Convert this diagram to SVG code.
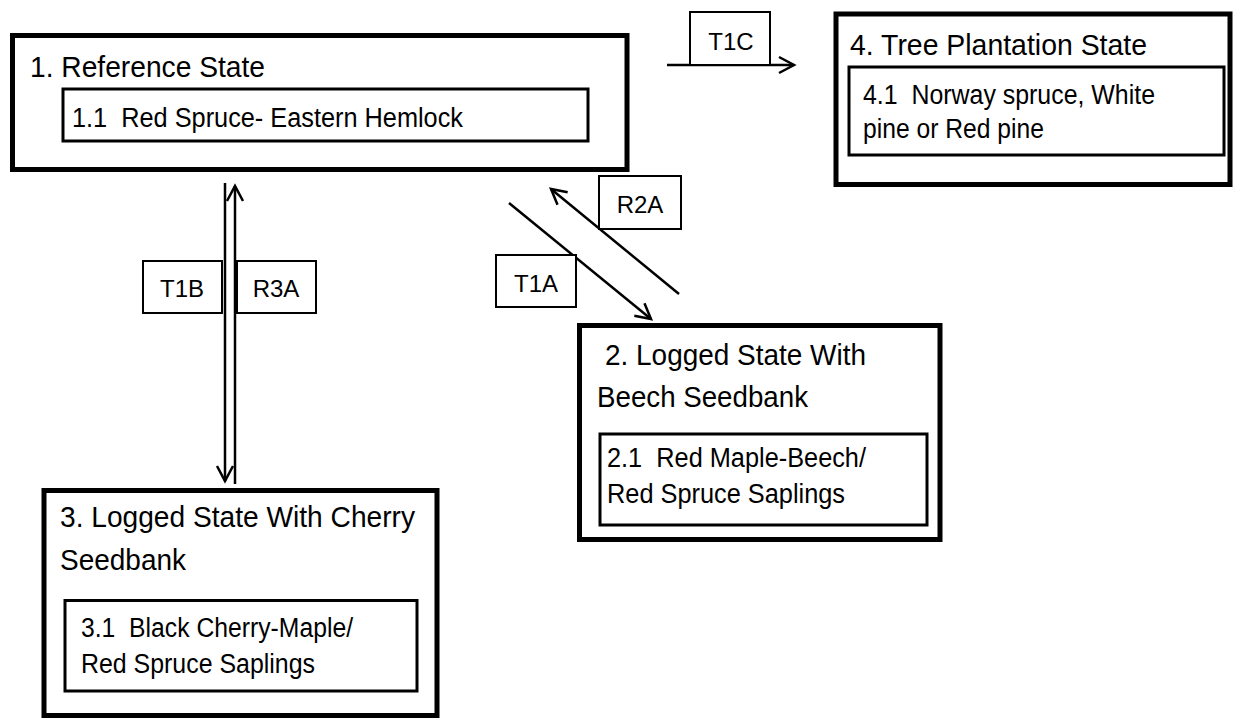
<svg xmlns="http://www.w3.org/2000/svg" width="1233" height="719" viewBox="0 0 1233 719">
<style>
.outer{fill:#fff;stroke:#000;stroke-width:5}
.inner{fill:#fff;stroke:#000;stroke-width:3}
.lbl{fill:#fff;stroke:#000;stroke-width:2}
.t{font-family:"Liberation Sans",Arial,sans-serif;fill:#000}
.title{font-size:30px}
.sub{font-size:27px}
.lt{font-size:24px;text-anchor:middle}
.conn{stroke:#000;stroke-width:2.5;fill:none}
</style>
<defs>
<marker id="arr" viewBox="-20 -12 24 24" refX="0" refY="0" markerWidth="24" markerHeight="24" markerUnits="userSpaceOnUse" orient="auto">
<path d="M-15,-8 L0,0 L-15,8" fill="none" stroke="#000" stroke-width="2.5"/>
</marker>
</defs>
<rect width="1233" height="719" fill="#fff"/>
<g id="connectors">
<line class="conn" x1="667" y1="65" x2="794" y2="65" marker-end="url(#arr)"/>
<line class="conn" x1="225" y1="183" x2="225" y2="481" marker-end="url(#arr)"/>
<line class="conn" x1="235" y1="484" x2="235" y2="186" marker-end="url(#arr)"/>
<line class="conn" x1="509" y1="203" x2="651" y2="319" marker-end="url(#arr)"/>
<line class="conn" x1="679" y1="294" x2="551" y2="189" marker-end="url(#arr)"/>
</g>
<g id="label-T1C">
<rect class="lbl" x="690" y="12" width="80" height="53"/>
<text class="t lt" x="731" y="50">T1C</text>
</g>
<g id="label-T1B">
<rect class="lbl" x="143" y="261" width="79" height="52"/>
<text class="t lt" x="182" y="297">T1B</text>
</g>
<g id="label-R3A">
<rect class="lbl" x="237" y="261" width="79" height="52"/>
<text class="t lt" x="276" y="297">R3A</text>
</g>
<g id="label-T1A">
<rect class="lbl" x="496" y="255" width="80" height="52"/>
<text class="t lt" x="536" y="292">T1A</text>
</g>
<g id="label-R2A">
<rect class="lbl" x="599" y="176" width="82" height="53"/>
<text class="t lt" x="640" y="213">R2A</text>
</g>
<g id="state1">
<rect class="outer" x="12.5" y="35.5" width="614.5" height="134"/>
<text class="t title" x="30" y="77" textLength="235" lengthAdjust="spacingAndGlyphs">1. Reference State</text>
<rect class="inner" x="63" y="89" width="525" height="52"/>
<text class="t sub" x="72" y="127" textLength="391" lengthAdjust="spacingAndGlyphs" xml:space="preserve">1.1  Red Spruce- Eastern Hemlock</text>
</g>
<g id="state4">
<rect class="outer" x="836" y="14" width="394" height="170.5"/>
<text class="t title" x="850" y="55" textLength="297" lengthAdjust="spacingAndGlyphs">4. Tree Plantation State</text>
<rect class="inner" x="849" y="67" width="375" height="88"/>
<text class="t sub" x="863" y="104" textLength="292" lengthAdjust="spacingAndGlyphs" xml:space="preserve">4.1  Norway spruce, White</text>
<text class="t sub" x="863" y="138" textLength="181" lengthAdjust="spacingAndGlyphs">pine or Red pine</text>
</g>
<g id="state2">
<rect class="outer" x="579.5" y="325.5" width="360.5" height="214"/>
<text class="t title" x="605" y="365" textLength="261" lengthAdjust="spacingAndGlyphs">2. Logged State With</text>
<text class="t title" x="597" y="407" textLength="211" lengthAdjust="spacingAndGlyphs">Beech Seedbank</text>
<rect class="inner" x="600" y="434" width="327" height="91"/>
<text class="t sub" x="607" y="467" textLength="259" lengthAdjust="spacingAndGlyphs" xml:space="preserve">2.1  Red Maple-Beech/</text>
<text class="t sub" x="607" y="503" textLength="238" lengthAdjust="spacingAndGlyphs">Red Spruce Saplings</text>
</g>
<g id="state3">
<rect class="outer" x="44" y="490.5" width="393" height="225"/>
<text class="t title" x="60" y="527" textLength="355" lengthAdjust="spacingAndGlyphs">3. Logged State With Cherry</text>
<text class="t title" x="60" y="570" textLength="126" lengthAdjust="spacingAndGlyphs">Seedbank</text>
<rect class="inner" x="65" y="600.5" width="352" height="90.5"/>
<text class="t sub" x="81" y="637" textLength="272" lengthAdjust="spacingAndGlyphs" xml:space="preserve">3.1  Black Cherry-Maple/</text>
<text class="t sub" x="81" y="673" textLength="234" lengthAdjust="spacingAndGlyphs">Red Spruce Saplings</text>
</g>
</svg>
